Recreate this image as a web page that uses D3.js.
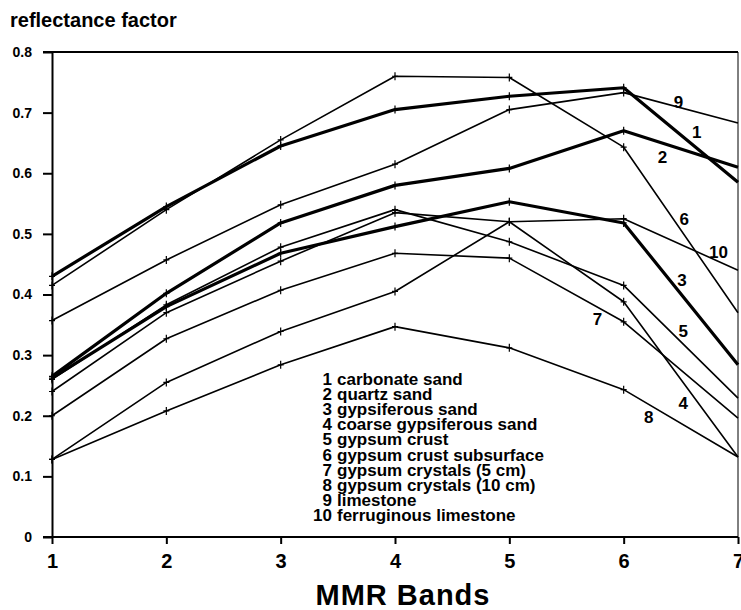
<!DOCTYPE html>
<html>
<head>
<meta charset="utf-8">
<script src="https://cdn.jsdelivr.net/npm/d3@7"></script>
<style>
  body { margin: 0; background: #fff; }
  svg { display: block; font-family: 'Liberation Sans', Arial, sans-serif; }
  .line { fill: none; stroke: #000; stroke-linejoin: round; }
  .mark { stroke: #000; stroke-width: 1.2; }
  .axis path, .axis line { stroke: #000; }
  .axis text { font-weight: bold; fill: #000; }
  .legend text { font-weight: bold; font-size: 17px; }
  .label { font-weight: bold; font-size: 17px; }
</style>
</head>
<body>
<div class="chart"><svg></svg></div>
<script>
const bands = [1, 2, 3, 4, 5, 6, 7]
const yTicks = [0, 0.1, 0.2, 0.3, 0.4, 0.5, 0.6, 0.7, 0.8]

const names = [
  'carbonate sand',
  'quartz sand',
  'gypsiferous sand',
  'coarse gypsiferous sand',
  'gypsum crust',
  'gypsum crust subsurface',
  'gypsum crystals (5 cm)',
  'gypsum crystals (10 cm)',
  'limestone',
  'ferruginous limestone'
]

const carbonateSand = [0.43, 0.545, 0.645, 0.705, 0.727, 0.741, 0.585]
const quartzSand = [0.265, 0.402, 0.518, 0.58, 0.608, 0.67, 0.61]
const gypsiferousSand = [0.262, 0.38, 0.468, 0.512, 0.553, 0.518, 0.284]
const coarseGypsiferous = [0.24, 0.37, 0.455, 0.535, 0.52, 0.388, 0.132]
const gypsumCrust = [0.26, 0.383, 0.478, 0.54, 0.487, 0.415, 0.229]
const crustSubsurface = [0.415, 0.54, 0.655, 0.76, 0.758, 0.643, 0.37]
const crystals5 = [0.2, 0.327, 0.407, 0.468, 0.46, 0.355, 0.196]
const crystals10 = [0.128, 0.208, 0.284, 0.347, 0.312, 0.243, 0.132]
const limestone = [0.357, 0.457, 0.548, 0.615, 0.705, 0.733, 0.683]
const ferruginous = [0.128, 0.255, 0.339, 0.405, 0.52, 0.525, 0.44]

const seriesValues = [carbonateSand, quartzSand, gypsiferousSand, coarseGypsiferous,
  gypsumCrust, crustSubsurface, crystals5, crystals10, limestone, ferruginous]
const thick = [true, true, true, false, false, false, false, false, false, false]

// series number labels, in band / value units
const labelAt = [
  [6.64, 0.668], [6.34, 0.627], [6.51, 0.424], [6.52, 0.221], [6.52, 0.34],
  [6.53, 0.525], [5.77, 0.36], [6.22, 0.198], [6.48, 0.718], [6.83, 0.47]
]

const chart = d3.select('.chart')
const svg = chart.select('svg')
const w = 741
const h = 610
svg.attr('width', w).attr('height', h)

const x = d3.scaleLinear().domain([1, 7]).range([52, 738])
const y = d3.scaleLinear().domain([0, 0.8]).range([537, 52])

const g = svg.append('g')

// frame: top and right
g.append('line')
  .attr('x1', 43).attr('x2', x(7))
  .attr('y1', y(0.8)).attr('y2', y(0.8))
  .attr('stroke', '#000').attr('stroke-width', 2)
g.append('line')
  .attr('x1', x(7)).attr('x2', x(7))
  .attr('y1', y(0.8)).attr('y2', y(0))
  .attr('stroke', '#000').attr('stroke-width', 1)

const axisY = d3.axisLeft(y)
  .tickValues(yTicks)
  .tickFormat(d => d === 0 ? '0' : d3.format('.1f')(d))
  .tickSize(9)
  .tickSizeOuter(0)
  .tickPadding(11)

g.append('g')
  .attr('class', 'axis axis-y')
  .attr('transform', `translate(${x(1)},0)`)
  .call(axisY)
  .call(s => s.selectAll('path, line').attr('stroke-width', 2))
  .call(s => s.selectAll('text').attr('font-size', 14))

const axisX = d3.axisBottom(x)
  .tickValues(bands)
  .tickFormat(d3.format('d'))
  .tickSize(7)
  .tickSizeOuter(0)
  .tickPadding(10)

g.append('g')
  .attr('class', 'axis axis-x')
  .attr('transform', `translate(0,${y(0)})`)
  .call(axisX)
  .call(s => s.select('.domain').attr('d', `M43,0H${x(7)}`))
  .call(s => s.selectAll('path, line').attr('stroke-width', 2))
  .call(s => s.selectAll('text').attr('font-size', 20))

const line = d3.line()
  .x((d, i) => x(bands[i]))
  .y(d => y(d))

const container = g.append('g').attr('class', 'lines')

container.selectAll('.line')
  .data(seriesValues)
  .enter()
  .append('path')
  .attr('class', 'line')
  .attr('stroke-width', (d, i) => thick[i] ? 3.2 : 1.6)
  .attr('d', line)

const marks = seriesValues.flatMap(s => s.map((v, i) => ({ b: bands[i], v })))
  .filter(d => d.b < 7)

container.selectAll('.mark')
  .data(marks)
  .enter()
  .append('path')
  .attr('class', 'mark')
  .attr('d', d => `M${x(d.b) - 3},${y(d.v)}h6M${x(d.b)},${y(d.v) - 4}v8`)

g.selectAll('.label')
  .data(labelAt)
  .enter()
  .append('text')
  .attr('class', 'label')
  .attr('x', d => x(d[0]))
  .attr('y', d => y(d[1]))
  .attr('text-anchor', 'middle')
  .attr('dy', '0.35em')
  .text((d, i) => i + 1)

const legend = g.append('g').attr('class', 'legend')
const rows = legend.selectAll('g')
  .data(names)
  .enter()
  .append('g')
  .attr('transform', (d, i) => `translate(0,${385 + i * 15.1})`)

rows.append('text')
  .attr('x', 332)
  .attr('text-anchor', 'end')
  .text((d, i) => i + 1)

rows.append('text')
  .attr('x', 337)
  .text(d => d)

svg.append('text')
  .attr('x', 10)
  .attr('y', 27)
  .attr('font-size', 20)
  .attr('font-weight', 'bold')
  .text('reflectance factor')

svg.append('text')
  .attr('x', 403)
  .attr('y', 605)
  .attr('text-anchor', 'middle')
  .attr('font-size', 29)
  .attr('font-weight', 'bold')
  .attr('letter-spacing', 1)
  .text('MMR Bands')
</script>
</body>
</html>
